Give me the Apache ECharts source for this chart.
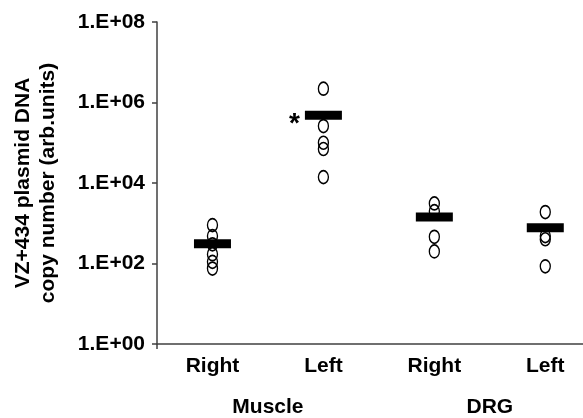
<!DOCTYPE html>
<html>
<head>
<meta charset="utf-8">
<script src="https://cdn.jsdelivr.net/npm/echarts@6/dist/echarts.min.js"></script>
<style>
    html, body { margin: 0; padding: 0; background: #fff; }
    #chart { width: 583px; height: 418px; }
</style>
</head>
<body>
<div id="chart"></div>
<script>
// data
const categories = ['Right', 'Left', 'Right', 'Left'];
const groups = ['Muscle', 'DRG'];
const groupCenters = [0.5, 2.5];
const yTickLabels = ['1.E+00', '1.E+02', '1.E+04', '1.E+06', '1.E+08'];
const muscleRight = [900, 480, 300, 170, 110, 75];
const muscleLeft = [2200000, 260000, 100000, 70000, 14000];
const drgRight = [3100, 2000, 460, 200];
const drgLeft = [1900, 480, 400, 85];
const means = [310, 480000, 1440, 770];
const significant = ['', '*', '', ''];

const font = 'Liberation Sans, Arial, sans-serif';
// the original axis runs past the right edge of the picture
const xMin = -0.5;
const xMax = 3.34;

let points = [];
[muscleRight, muscleLeft, drgRight, drgLeft].forEach(function (arr, i) {
    arr.forEach(function (v) {
        points.push([i, v]);
    });
});

let meanData = means.map(function (v, i) {
    let item = { value: [i, v] };
    if (significant[i]) {
        item.label = {
            show: true,
            position: 'left',
            distance: 5,
            offset: [0, 9],
            formatter: significant[i],
            color: '#000',
            fontSize: 28,
            fontWeight: 'bold',
            fontFamily: font,
        };
    }
    return item;
});

let labelStyle = {
    margin: 12,
    color: '#000',
    fontSize: 21,
    fontWeight: 'bold',
    fontFamily: font,
};

let option = {
    animation: false,
    backgroundColor: '#fff',
    grid: {
        left: 157,
        top: 22,
        right: 0,
        bottom: 73,
    },
    xAxis: [
        {
            type: 'value',
            min: xMin,
            max: xMax,
            position: 'bottom',
            splitLine: { show: false },
            axisLine: {
                show: true,
                onZero: false,
                lineStyle: { color: '#404040', width: 1.5 },
            },
            axisTick: {
                show: true,
                length: 5,
                customValues: [xMin],
                lineStyle: { color: '#404040', width: 1.5 },
            },
            axisLabel: Object.assign({}, labelStyle, {
                customValues: categories.map(function (c, i) { return i; }),
                formatter: function (value) {
                    return categories[Math.round(value)];
                },
            }),
        },
        {
            type: 'value',
            min: xMin,
            max: xMax,
            position: 'bottom',
            offset: 41,
            splitLine: { show: false },
            axisLine: { show: false, onZero: false },
            axisTick: { show: false },
            axisLabel: Object.assign({}, labelStyle, {
                customValues: groupCenters,
                formatter: function (value) {
                    return groups[groupCenters.indexOf(value)];
                },
            }),
        },
    ],
    yAxis: {
        type: 'log',
        logBase: 10,
        min: 1,
        max: 100000000,
        interval: 2,
        name: 'VZ+434 plasmid DNA\ncopy number (arb.units)',
        nameLocation: 'middle',
        nameRotate: 90,
        nameGap: 96,
        nameTextStyle: {
            color: '#000',
            fontSize: 21,
            fontWeight: 'bold',
            fontFamily: font,
            lineHeight: 25,
        },
        axisLine: {
            show: true,
            onZero: false,
            lineStyle: { color: '#404040', width: 1.5 },
        },
        axisTick: {
            show: true,
            length: 5,
            lineStyle: { color: '#404040', width: 1.5 },
        },
        splitLine: { show: false },
        minorTick: { show: false },
        axisLabel: Object.assign({}, labelStyle, {
            formatter: function (value, index) {
                return yTickLabels[index];
            },
        }),
    },
    series: [
        {
            name: 'samples',
            type: 'scatter',
            xAxisIndex: 0,
            data: points,
            symbol: 'circle',
            symbolSize: [10, 13],
            itemStyle: {
                color: 'rgba(0,0,0,0)',
                borderColor: '#000',
                borderWidth: 1.5,
                opacity: 1,
            },
            emphasis: { disabled: true },
            z: 2,
        },
        {
            name: 'mean',
            type: 'scatter',
            xAxisIndex: 0,
            data: meanData,
            symbol: 'rect',
            symbolSize: [37, 9],
            itemStyle: { color: '#000', opacity: 1 },
            emphasis: { disabled: true },
            z: 3,
        },
    ],
};

let chart = echarts.init(document.getElementById('chart'));
chart.setOption(option);
</script>
</body>
</html>
